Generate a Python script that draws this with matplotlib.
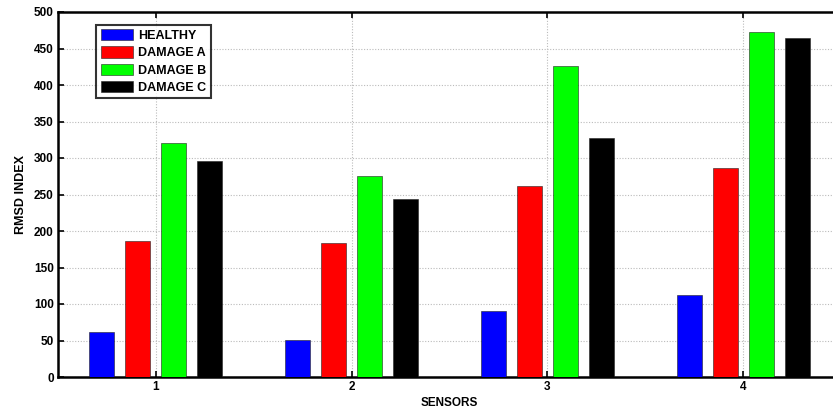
import numpy as np
import matplotlib.pyplot as plt

# RMSD index per sensor and structural state
sensors = [1, 2, 3, 4]
healthy = [61, 51, 91, 113]
damage_a = [186, 183, 261, 286]
damage_b = [321, 275, 426, 472]
damage_c = [296, 244, 328, 465]

labels = ["HEALTHY", "DAMAGE A", "DAMAGE B", "DAMAGE C"]
colors = ["#0000ff", "#ff0000", "#00ff00", "#000000"]

plt.rcParams["font.family"] = ["Liberation Sans", "DejaVu Sans"]
plt.rcParams["font.weight"] = "bold"

fig = plt.figure(figsize=(8.33, 4.12), dpi=100)
ax = fig.add_axes([58 / 833, 35 / 412, 783 / 833, 365 / 412])

x = np.array(sensors, dtype=float)
width = 0.128
offsets = [-0.2755, -0.0918, 0.0918, 0.2755]
for vals, off, c, lab in zip([healthy, damage_a, damage_b, damage_c], offsets, colors, labels):
    ax.bar(x + off, vals, width, color=c, edgecolor="#222222", linewidth=0.4, label=lab, zorder=3)

ax.set_xlim(0.5, 4.5)
ax.set_ylim(0, 500)
ax.set_xticks(sensors)
ax.set_yticks(np.arange(0, 501, 50))
ax.tick_params(direction="in", length=4, width=1.2, labelsize=8.5, pad=3,
               top=True, right=False)
ax.grid(True, linestyle=(0, (1, 1.5)), color="#bbbbbb", linewidth=0.8, zorder=0)
for s in ax.spines.values():
    s.set_linewidth(1.8)
ax.spines["right"].set_visible(False)

ax.set_xlabel("SENSORS", fontsize=8.5, fontweight="bold", labelpad=3)
ax.set_ylabel("RMSD INDEX", fontsize=9, fontweight="bold", labelpad=5)

leg = ax.legend(loc="upper left", bbox_to_anchor=(0.049, 0.965), fontsize=9,
                frameon=True, fancybox=False, edgecolor="black",
                handlelength=2.6, handleheight=1.0, labelspacing=0.35,
                borderpad=0.35, handletextpad=0.4, borderaxespad=0)
leg.get_frame().set_linewidth(1.5)
for t in leg.get_texts():
    t.set_fontweight("bold")

fig.savefig("out.png", dpi=100)
